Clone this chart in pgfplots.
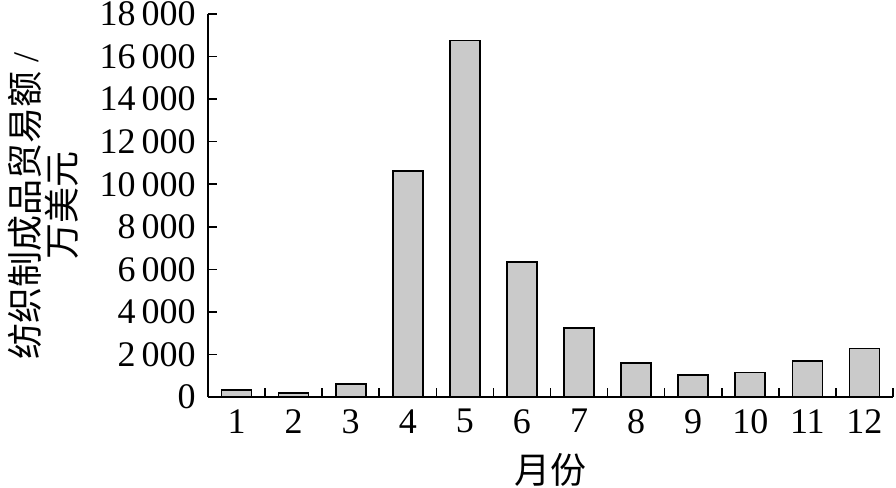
\documentclass[border=0pt]{standalone}
\usepackage{pgfplots}
\pgfplotsset{compat=1.18}
\usepackage{fontspec}
\setmainfont{Liberation Serif}
\newfontfamily\cjk{Noto Sans CJK SC}
\definecolor{barfill}{RGB}{202,202,202}
\begin{document}
\fontsize{18bp}{18.5bp}\selectfont
\begin{tikzpicture}[font=\fontsize{18bp}{18.5bp}\selectfont]
\useasboundingbox (-104bp,-45.5bp) rectangle (344bp,198.5bp);
\begin{axis}[
  at={(0,0)}, anchor=south west,
  scale only axis, width=342.5bp, height=191.5bp,
  xmin=0.5, xmax=12.5, ymin=0, ymax=18000,
  axis x line=bottom, axis y line=left,
  axis line style={-, line width=0.8bp, black},
  ybar, bar width=15bp,
  xtick={1.5,2.5,3.5,4.5,5.5,6.5,7.5,8.5,9.5,10.5,11.5,12.5},
  xticklabels={1,2,3,4,5,6,7,8,9,10,11,12},
  xticklabel style={xshift=-14.27bp},
  ytick={0,2000,4000,6000,8000,10000,12000,14000,16000,18000},
  tick align=inside, major tick length=4.5bp,
  tick style={line width=0.8bp, black},
  /pgf/number format/.cd, 1000 sep={\,}, assume math mode=true, /pgfplots/.cd,
  scaled y ticks=false,
  xlabel={{\cjk 月份}},
  xlabel style={at={(axis description cs:0.5,-0.19)}, anchor=center},
  ylabel={{\cjk 纺织制成品贸易额} /\\{\cjk 万美元}},
  ylabel style={at={(axis description cs:-0.241,0.5)}, anchor=center, align=center},
  clip=false,
]
\addplot[draw=black, line width=0.8bp, fill=barfill] coordinates {
  (1,315) (2,175) (3,612) (4,10630) (5,16750) (6,6340)
  (7,3235) (8,1590) (9,1020) (10,1160) (11,1680) (12,2280)
};
\end{axis}
\end{tikzpicture}
\end{document}
